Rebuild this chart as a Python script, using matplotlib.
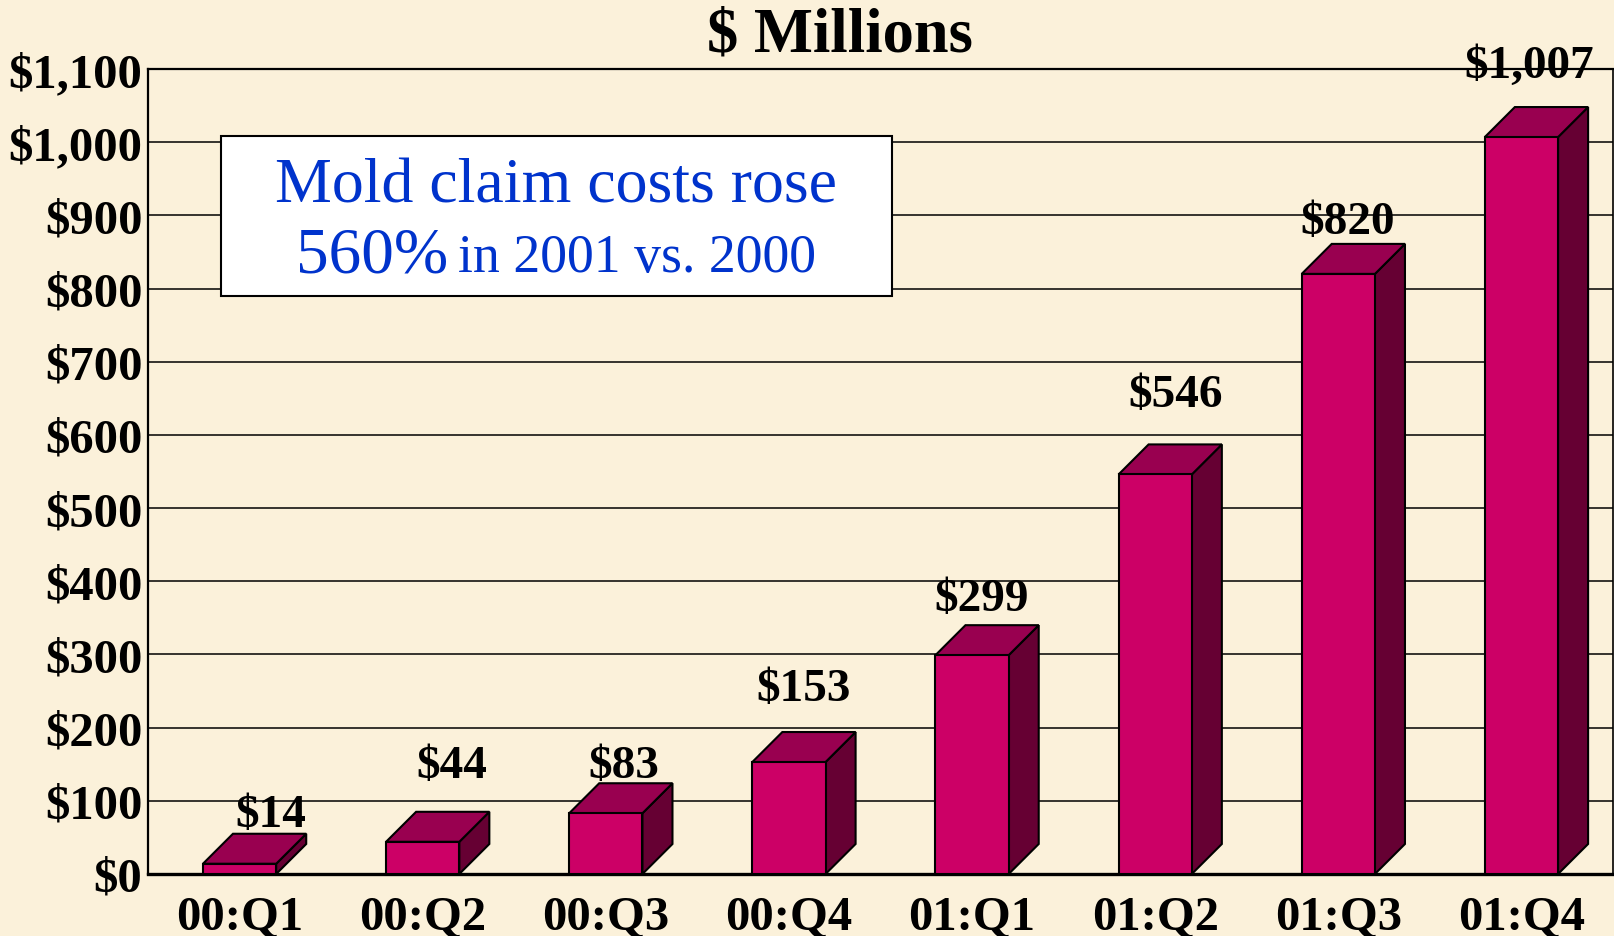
import matplotlib
matplotlib.use("Agg")
import matplotlib.pyplot as plt
from matplotlib.patches import Polygon, Rectangle
from matplotlib.ticker import FuncFormatter

# ---- data ----
categories = ["00:Q1", "00:Q2", "00:Q3", "00:Q4", "01:Q1", "01:Q2", "01:Q3", "01:Q4"]
values = [14, 44, 83, 153, 299, 546, 820, 1007]
value_labels = ["$14", "$44", "$83", "$153", "$299", "$546", "$820", "$1,007"]
y_ticks = [0, 100, 200, 300, 400, 500, 600, 700, 800, 900, 1000, 1100]

# label placement (data units)
label_dx = [0.17, 0.16, 0.10, 0.08, 0.05, 0.11, 0.05, 0.04]
label_base = [66, 133, 133, 238, 361, 639, 876, 1089]

# ---- style ----
BG = "#FBF1DA"
FRONT = "#CC0066"
TOP = "#990050"
SIDE = "#660033"
BLUE = "#0033CC"
SERIF = ["Liberation Serif", "DejaVu Serif"]

plt.rcParams["font.family"] = SERIF

fig = plt.figure(figsize=(16.15, 9.37), dpi=100, facecolor=BG)
ax = fig.add_axes([148 / 1615, 62 / 937, 1465 / 1615, 805 / 937])
ax.set_facecolor(BG)

ax.set_xlim(-0.5, len(categories) - 0.5)
ax.set_ylim(0, 1100)

W = 0.40      # front face width
DX = 0.164    # depth in x (data units)
DY = 41       # depth in y (data units)

for i, v in enumerate(values):
    x0, x1 = i - W / 2, i + W / 2
    front = Rectangle((x0, 0), W, v, facecolor=FRONT, edgecolor="black", lw=1.5, zorder=3)
    top = Polygon([(x0, v), (x1, v), (x1 + DX, v + DY), (x0 + DX, v + DY)],
                  closed=True, facecolor=TOP, edgecolor="black", lw=1.5, zorder=3)
    side = Polygon([(x1, 0), (x1 + DX, DY), (x1 + DX, v + DY), (x1, v)],
                   closed=True, facecolor=SIDE, edgecolor="black", lw=1.5, zorder=3)
    ax.add_patch(side)
    ax.add_patch(top)
    ax.add_patch(front)
    ax.text(i + label_dx[i], label_base[i], value_labels[i], ha="center", va="baseline",
            fontsize=34, fontweight="bold", color="black", zorder=5)

ax.set_yticks(y_ticks)
ax.yaxis.set_major_formatter(FuncFormatter(lambda v, p: "${:,.0f}".format(v)))
ax.set_xticks(range(len(categories)))
ax.set_xticklabels(categories)
ax.tick_params(axis="both", length=0, labelsize=35)
ax.tick_params(axis="y", pad=4)
ax.tick_params(axis="x", pad=15)
for lab in ax.get_xticklabels() + ax.get_yticklabels():
    lab.set_fontweight("bold")

ax.grid(axis="y", color="black", lw=1.1, zorder=0)
ax.set_axisbelow(True)
for s in ["left", "top"]:
    ax.spines[s].set_linewidth(1.6)
ax.spines["right"].set_linewidth(1.2)
ax.spines["bottom"].set_linewidth(2.4)

# title
fig.text(840 / 1615, 1 - 52 / 937, "$ Millions", ha="center", va="baseline",
         fontsize=45, fontweight="bold", color="black")

# annotation box
box = Rectangle((0.0498, 0.718), 0.4582, 0.199, transform=ax.transAxes,
                facecolor="white", edgecolor="black", lw=1.5, zorder=6)
ax.add_patch(box)
ax.text(0.2785, 0.835, "Mold claim costs rose", transform=ax.transAxes,
        ha="center", va="baseline", fontsize=46, color=BLUE, zorder=7)
ax.text(0.2048, 0.749, "560%", transform=ax.transAxes,
        ha="right", va="baseline", fontsize=47, color=BLUE, zorder=7)
ax.text(0.2116, 0.749, "in 2001 vs. 2000", transform=ax.transAxes,
        ha="left", va="baseline", fontsize=38.7, color=BLUE, zorder=7)

fig.savefig("out.png", dpi=100, facecolor=BG)
